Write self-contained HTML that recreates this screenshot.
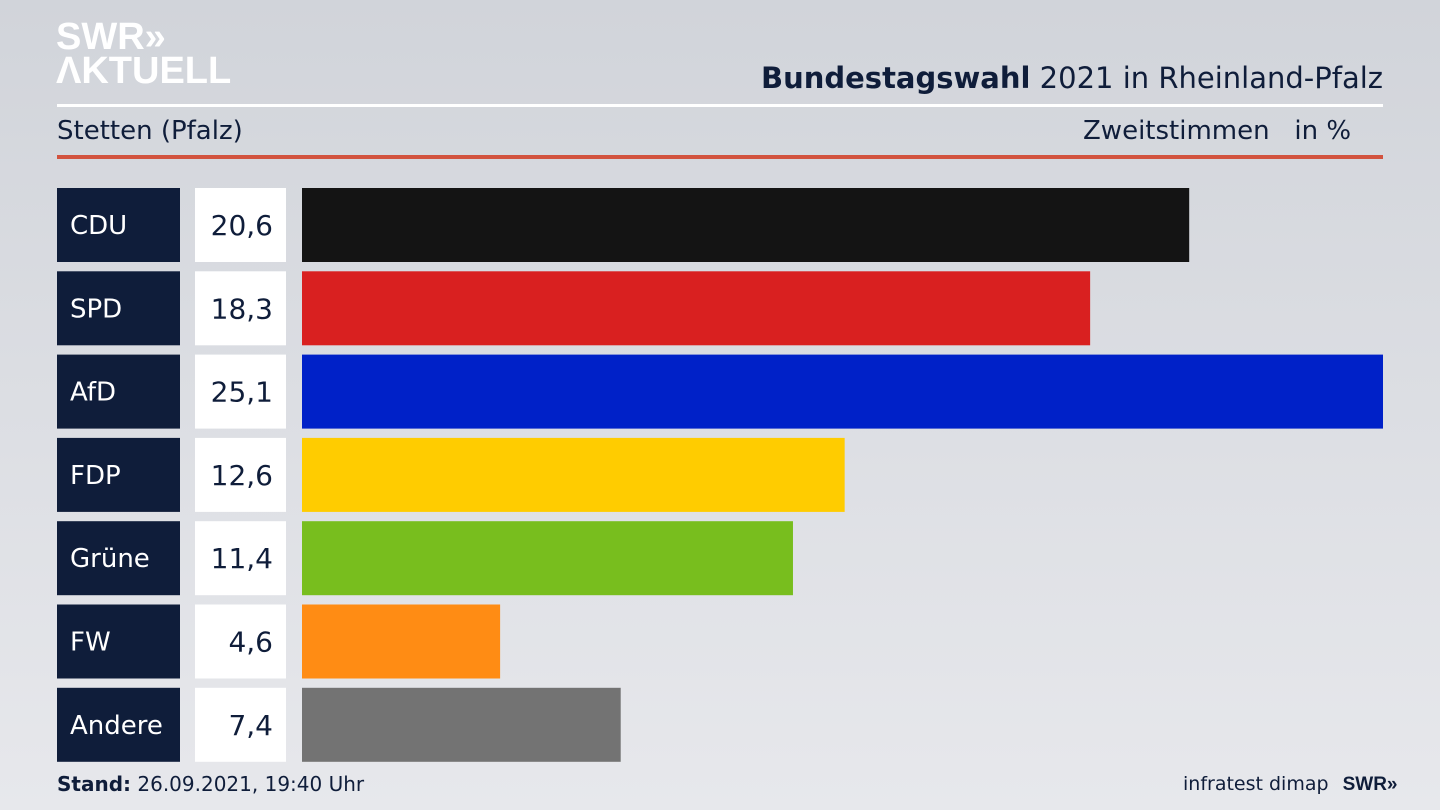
<!DOCTYPE html>
<html><head><meta charset="utf-8"><style>
body{margin:0;width:1440px;height:810px;overflow:hidden;background:linear-gradient(180deg,#d1d4da 0%,#dcdee3 50%,#e7e8ec 100%);font-family:"DejaVu Sans","Liberation Sans",sans-serif;color:#0f1d3a;position:relative}
.abs{position:absolute}
.logo{color:#fff;font-weight:bold;font-family:"Liberation Sans",sans-serif;font-size:38px;line-height:34px;letter-spacing:0px}
</style></head><body>
<div class="abs logo" style="left:56px;top:20px">SWR»<br>ΛKTUELL</div>
<div class="abs" style="right:57px;top:61px;font-size:29px"><b>Bundestagswahl</b> 2021 in Rheinland-Pfalz</div>
<div class="abs" style="left:57px;top:104px;width:1326px;height:3px;background:#fff"></div>
<div class="abs" style="left:57px;top:116px;font-size:26px">Stetten (Pfalz)</div>
<div class="abs" style="left:1083px;top:116px;font-size:26px">Zweitstimmen&nbsp;&nbsp;&nbsp;in %</div>
<div class="abs" style="left:57px;top:155px;width:1326px;height:4px;background:#d2533f"></div>
<svg class="abs" style="left:0;top:0" width="1440" height="810" id="chart"></svg>
<div class="abs" style="left:57px;top:772px;font-size:20px"><b>Stand:</b> 26.09.2021, 19:40 Uhr</div>
<div class="abs" style="left:1183px;top:773px;font-size:19px">infratest dimap <b style="font-family:'Liberation Sans',sans-serif;margin-left:8px">SWR»</b></div>
<script>
const parties=["CDU","SPD","AfD","FDP","Grüne","FW","Andere"];
const values=[20.6,18.3,25.1,12.6,11.4,4.6,7.4];
const colors=["#141414","#d92020","#0021c8","#ffcc00","#78be1e","#ff8c14","#737373"];
const svg=document.getElementById('chart');
const NS="http://www.w3.org/2000/svg";
const x0=302,xMax=1383,vMax=25.1;
const xs=v=>(v/vMax)*(xMax-x0);
const ys=i=>188+i*83.3;
function mk(t,a){const e=document.createElementNS(NS,t);for(const k in a)e.setAttribute(k,a[k]);svg.appendChild(e);return e;}
parties.forEach((p,i)=>{
 const y=ys(i);
 const lb=mk('rect',{x:57,y:y,width:123,height:74,fill:'#0f1d3a'});
 
 
 const t=mk('text',{x:70,y:y+46,fill:'#fff','font-size':26,'font-family':'DejaVu Sans, Liberation Sans, sans-serif'});
 t.textContent=p;
 
 
 const vb=mk('rect',{x:195,y:y,width:91,height:74,fill:'#fff'});
 
 
 const vt=mk('text',{x:273,y:y+47,fill:'#0f1d3a','font-size':28,'text-anchor':'end','font-family':'DejaVu Sans, Liberation Sans, sans-serif'});
 vt.textContent=values[i].toFixed(1).replace('.',',');
 
 
 const b=mk('rect',{x:x0,y:y,width:xs(values[i]),height:74,fill:colors[i]});
 
 
});
</script>
</body></html>
